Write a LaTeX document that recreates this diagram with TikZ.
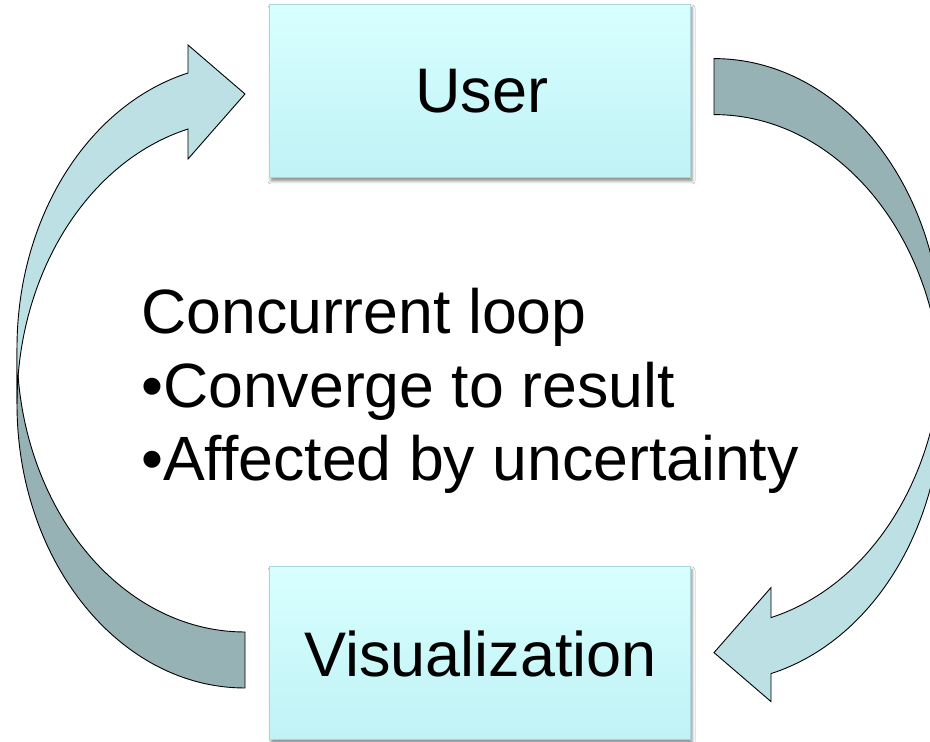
\documentclass[tikz,border=0pt]{standalone}
\usepackage{fontspec}
\setmainfont{Liberation Sans}
\usetikzlibrary{shadows.blur}
\definecolor{arrowlight}{HTML}{BCE0E3}
\definecolor{arrowdark}{HTML}{96B2B5}
\definecolor{boxtop}{HTML}{D8FFFF}
\definecolor{boxbot}{HTML}{C0F2F5}
\definecolor{boxedge}{HTML}{A8D6D9}
\newcommand\loopArrowShape{%
  \filldraw[arrowpart, fill=arrowdark] (17,338)
    arc[start angle=180, end angle=270, x radius=228pt, y radius=284pt]
    -- (245,110)
    arc[start angle=270, end angle=180, x radius=228pt, y radius=284pt]
    -- cycle;
  \filldraw[arrowpart, fill=arrowlight] (17,338)
    arc[start angle=180, end angle=104.48, x radius=228pt, y radius=284pt]
    -- (188,583) -- (245,648) -- (188,697) -- (188,669)
    arc[start angle=104.48, end angle=180, x radius=228pt, y radius=284pt]
    -- cycle;
}
\begin{document}
\begin{tikzpicture}[x=1pt,y=1pt,
  labelbox/.style={rectangle, minimum width=421pt, minimum height=173pt, inner sep=0pt,
    top color=boxtop, bottom color=boxbot, draw=boxedge, line width=1pt,
    blur shadow={shadow xshift=2pt, shadow yshift=-3pt, shadow blur radius=3pt, shadow opacity=45},
    font=\fontsize{63}{70}\selectfont},
  bodytext/.style={anchor=base west, inner sep=0pt, font=\fontsize{62.6}{70}\selectfont},
  arrowpart/.style={draw=black, line width=0.9pt, line join=miter},
]
\useasboundingbox (0,0) rectangle (930,742);
\clip (0,0) rectangle (930,742);
\fill[white] (0,0) rectangle (930,742);

% left arrow (Visualization -> User)
\loopArrowShape
% right arrow (User -> Visualization), same shape turned half round
\begin{scope}[rotate around={180:(479.5,368.7)}]
  \loopArrowShape
\end{scope}

\node[labelbox] (user) at (479.5,650.5) {\hspace*{5pt}User};
\node[labelbox] (vis) at (479.5,88.5) {\hspace*{2pt}Visualization};

\node[bodytext] (t1) at (141,408) {Concurrent loop};
\node[bodytext] (t2) at (141,334) {•Converge to result};
\node[bodytext] (t3) at (141,261) {•Affected by uncertainty};
\end{tikzpicture}
\end{document}
